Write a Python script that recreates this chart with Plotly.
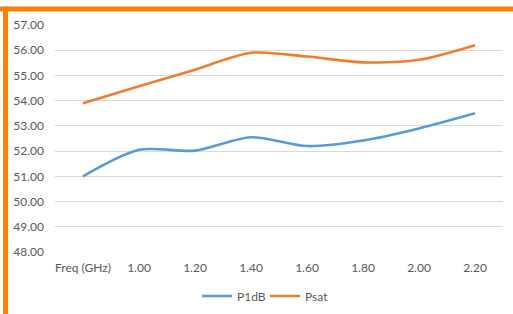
import plotly.graph_objects as go

categories = ["Freq (GHz)", "1.00", "1.20", "1.40", "1.60", "1.80", "2.00", "2.20"]
p1db = [51.0, 52.05, 52.02, 52.55, 52.2, 52.42, 52.9, 53.5]
psat = [53.9, 54.57, 55.23, 55.9, 55.75, 55.52, 55.62, 56.2]
y_ticks = [48, 49, 50, 51, 52, 53, 54, 55, 56, 57]

W, H = 513, 314
L, R, T, B = 55, 10, 25, 62
pw, ph = W - L - R, H - T - B

def px(x):
    return (x - L) / pw

def py(y):
    return (H - B - y) / ph

fig = go.Figure()
fig.add_trace(go.Scatter(x=categories, y=p1db, name="P1dB", mode="lines",
                         line=dict(color="#5B9BD5", width=2.6, shape="spline", smoothing=0.8)))
fig.add_trace(go.Scatter(x=categories, y=psat, name="Psat", mode="lines",
                         line=dict(color="#ED7D31", width=2.6, shape="spline", smoothing=0.8)))

fig.update_layout(
    width=W, height=H,
    margin=dict(l=L, r=R, t=T, b=B, autoexpand=False),
    paper_bgcolor="white", plot_bgcolor="white",
    font=dict(family="Lato, Open Sans, sans-serif", size=12, color="#595959"),
    showlegend=True,
    legend=dict(orientation="h", x=px(197), xanchor="left", yref="container",
                y=1 - 296 / H, yanchor="middle", itemwidth=30,
                entrywidth=23, entrywidthmode="pixels",
                font=dict(size=12, color="#595959")),
    xaxis=dict(type="category", range=[-0.5, 7.5], showgrid=False, zeroline=False, showline=False,
               ticks="", tickfont=dict(size=12, color="#595959"), automargin=False,
               ticklabelstandoff=7),
    yaxis=dict(range=[48, 57], tickvals=y_ticks, tickformat=".2f",
               showgrid=True, gridcolor="#D9D9D9", gridwidth=1, zeroline=False,
               showline=False, ticks="", tickfont=dict(size=12, color="#595959"), automargin=False,
               ticklabelstandoff=10),
    shapes=[
        dict(type="rect", xref="paper", yref="paper", x0=px(0), x1=px(W), y0=py(11.5), y1=py(6.5),
             fillcolor="#FF8000", line=dict(width=0), layer="above"),
        dict(type="rect", xref="paper", yref="paper", x0=px(3), x1=px(8), y0=py(H), y1=py(6.5),
             fillcolor="#FF8000", line=dict(width=0), layer="above"),
    ],
)

fig.write_html("out.html", config={"displayModeBar": False},
               post_script="document.body.style.margin='0';")
